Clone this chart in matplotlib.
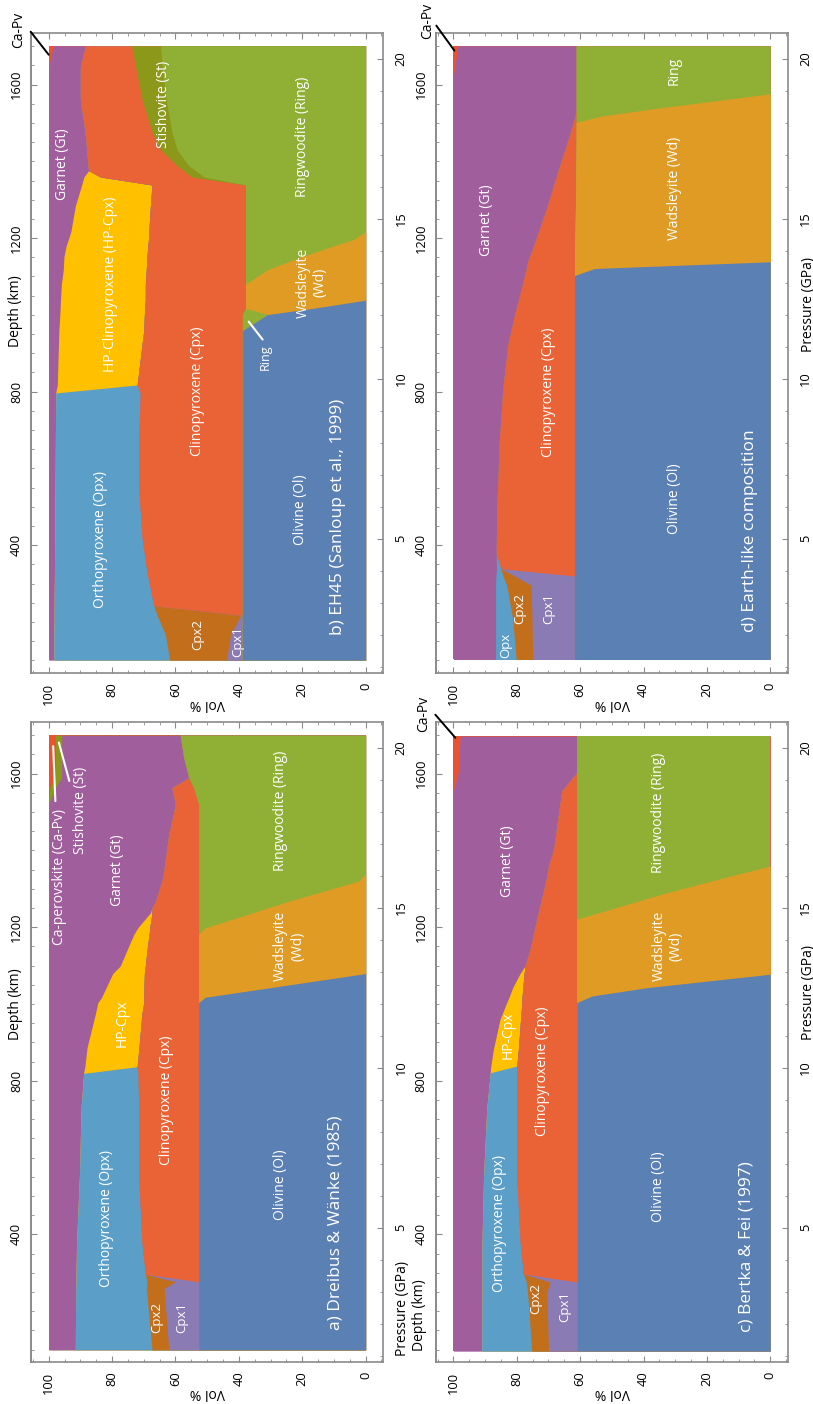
import numpy as np
import matplotlib
matplotlib.use("Agg")
import matplotlib.pyplot as plt
from matplotlib.ticker import MultipleLocator

plt.rcParams['font.family'] = ['Open Sans', 'DejaVu Sans']

frame_col = "#8a8a8a"
fs_tick = 9.3
fs_phase = 10
fs_small = 9.5
fs_title = 12.5

phase_colors = {
    "Ol": "#5b80b4", "Wd": "#e09b24", "Ring": "#8fb035", "St": "#8c981a",
    "Cpx": "#e96336", "Cpx1": "#8a7bb4", "Cpx2": "#c36e1b", "Opx": "#5b9ec8",
    "HP-Cpx": "#ffc000", "Gt": "#a15e9c", "Ca-Pv": "#e9532f",
}

# ---------------- a) Dreibus & Waenke (1985)  (vol % of each phase)
a_pressure = [1.18, 3.1, 3.31, 3.54, 4.56, 6.65, 8.73, 9.82, 10.03, 10.63, 11.67, 12.03, 12.2, 12.94, 13.18,
              13.65, 14.17, 14.37, 14.84, 15.0, 15.2, 15.83, 16.06, 17.29, 18.23, 18.75, 19.06, 19.69, 20.39]
a_ol = [52.7, 52.7, 52.7, 52.7, 52.7, 52.7, 52.7, 52.7, 52.7, 52.7, 52.7, 52.7, 50.6, 0, 0,
        0, 0, 0, 0, 0, 0, 0, 0, 0, 0, 0, 0, 0, 0]
a_wd = [0, 0, 0, 0, 0, 0, 0, 0, 0, 0, 0, 0, 2.1, 52.7, 52.7,
        52.7, 52.7, 50.6, 35.6, 30.6, 24.3, 2.2, 0, 0, 0, 0, 0, 0, 0]
a_ring = [0, 0, 0, 0, 0, 0, 0, 0, 0, 0, 0, 0, 0, 0, 0,
          0, 0, 2.1, 17.1, 22.1, 28.4, 50.5, 52.7, 52.7, 52.7, 54.3, 55.8, 57.4, 58.5]
a_cpx = [0, 0, 0, 16.8, 17.9, 18.9, 18.9, 19.1, 19.4, 18.8, 17.9, 17.3, 17.3, 17.1, 16.8,
         16.3, 15.6, 15.4, 14.7, 14.7, 13.6, 11.6, 11.1, 9.4, 7.3, 6.8, 0, 0, 0]
a_cpx1 = [9.4, 10.9, 7.3, 0, 0, 0, 0, 0, 0, 0, 0, 0, 0, 0, 0,
          0, 0, 0, 0, 0, 0, 0, 0, 0, 0, 0, 0, 0, 0]
a_cpx2 = [5.3, 5.6, 9.0, 0, 0, 0, 0, 0, 0, 0, 0, 0, 0, 0, 0,
          0, 0, 0, 0, 0, 0, 0, 0, 0, 0, 0, 0, 0, 0]
a_opx = [24.2, 22.3, 22.4, 21.9, 20.6, 18.7, 18.2, 17.2, 0, 0, 0, 0, 0, 0, 0,
         0, 0, 0, 0, 0, 0, 0, 0, 0, 0, 0, 0, 0, 0]
a_hpcpx = [0, 0, 0, 0, 0, 0, 0, 0, 16.5, 16.4, 14.7, 14.5, 13.3, 10.0, 7.9,
           6.4, 4.8, 3.8, 0.5, 0, 0, 0, 0, 0, 0, 0, 0, 0, 0]
a_gt = [8.4, 8.5, 8.6, 8.6, 8.8, 9.7, 10.2, 11.0, 11.4, 12.1, 14.7, 15.5, 16.7, 20.2, 22.6,
        24.6, 26.9, 28.1, 32.1, 32.6, 33.7, 35.7, 36.2, 37.9, 40.0, 36.8, 40.2, 38.5, 37.4]
a_st = [0, 0, 0, 0, 0, 0, 0, 0, 0, 0, 0, 0, 0, 0, 0,
        0, 0, 0, 0, 0, 0, 0, 0, 0, 0, 1.8, 2.0, 2.0, 2.0]
a_capv = [0, 0, 0, 0, 0, 0, 0, 0, 0, 0, 0, 0, 0, 0, 0,
          0, 0, 0, 0, 0, 0, 0, 0, 0, 0, 0.3, 2.0, 2.1, 2.1]

# ---------------- b) EH45 (Sanloup et al., 1999)
b_pressure = [1.2, 2.0, 2.6, 2.9, 3.9, 5.0, 6.6, 8.1, 9.55, 9.8, 11.5, 12.0, 12.2, 12.45, 12.95,
              13.4, 13.8, 14.15, 14.35, 14.6, 15.4, 16.05, 16.3, 16.5, 16.65, 17.15, 17.7, 18.7, 19.75, 20.4]
b_ol = [38.9, 38.9, 38.9, 38.9, 38.9, 38.9, 38.9, 38.9, 38.9, 38.9, 38.9, 31.0, 16.3, 0, 0,
        0, 0, 0, 0, 0, 0, 0, 0, 0, 0, 0, 0, 0, 0, 0]
b_wd = [0, 0, 0, 0, 0, 0, 0, 0, 0, 0, 0, 0, 21.6, 37.9, 37.9,
        31.0, 20.5, 10.0, 3.7, 0, 0, 0, 0, 0, 0, 0, 0, 0, 0, 0]
b_ring = [0, 0, 0, 0, 0, 0, 0, 0, 0, 0, 0, 7.9, 0, 0, 0,
          6.9, 17.4, 27.9, 34.2, 37.9, 37.9, 37.9, 51.0, 53.7, 55.8, 59.5, 61.1, 62.9, 64.2, 64.7]
b_st = [0, 0, 0, 0, 0, 0, 0, 0, 0, 0, 0, 0, 0, 0, 0,
        0, 0, 0, 0, 0, 0, 0, 4.0, 3.7, 3.7, 5.2, 6.3, 7.6, 8.4, 9.2]
b_cpx = [0, 0, 0, 27.9, 30.0, 31.6, 32.7, 32.7, 32.2, 33.2, 31.1, 30.9, 31.8, 31.6, 31.6,
         31.3, 31.1, 30.8, 30.6, 30.5, 30.0, 29.5, 28.7, 30.0, 28.1, 23.3, 21.1, 19.5, 17.4, 14.5]
b_cpx1 = [5.0, 3.7, 0.5, 0, 0, 0, 0, 0, 0, 0, 0, 0, 0, 0, 0,
          0, 0, 0, 0, 0, 0, 0, 0, 0, 0, 0, 0, 0, 0, 0]
b_cpx2 = [17.9, 20.6, 26.4, 0, 0, 0, 0, 0, 0, 0, 0, 0, 0, 0, 0,
          0, 0, 0, 0, 0, 0, 0, 0, 0, 0, 0, 0, 0, 0, 0]
b_opx = [36.6, 35.2, 32.5, 31.5, 29.3, 27.6, 26.4, 26.3, 26.7, 0, 0, 0, 0, 0, 0,
         0, 0, 0, 0, 0, 0, 0, 0, 0, 0, 0, 0, 0, 0, 0]
b_hpcpx = [0, 0, 0, 0, 0, 0, 0, 0, 0, 25.2, 26.8, 26.7, 26.7, 26.8, 26.5,
           26.2, 26.2, 25.8, 25.3, 24.6, 23.7, 22.2, 5.2, 0, 0, 0, 0, 0, 0, 0]
b_gt = [1.6, 1.6, 1.7, 1.7, 1.8, 1.9, 2.0, 2.1, 2.2, 2.7, 3.2, 3.5, 3.6, 3.7, 4.0,
        4.6, 4.8, 5.5, 6.2, 7.0, 8.4, 10.4, 11.1, 12.6, 12.4, 12.0, 11.5, 10.0, 10.0, 10.2]
b_capv = [0, 0, 0, 0, 0, 0, 0, 0, 0, 0, 0, 0, 0, 0, 0,
          0, 0, 0, 0, 0, 0, 0, 0, 0, 0, 0, 0, 0, 0, 1.4]

# ---------------- c) Bertka & Fei (1997)
c_pressure = [1.14, 2.98, 3.3, 3.55, 4.5, 6.6, 8.7, 9.84, 10.05, 10.57, 11.51, 12.03, 12.24,
              12.5, 12.92, 13.18, 13.7, 14.64, 15.47, 15.99, 16.3, 16.82, 18.65, 19.22, 20.36]
c_ol = [61.1, 61.1, 61.1, 61.1, 61.1, 61.1, 61.1, 61.1, 61.1, 61.1, 61.1, 61.1, 56.3,
        38.9, 0, 0, 0, 0, 0, 0, 0, 0, 0, 0, 0]
c_wd = [0, 0, 0, 0, 0, 0, 0, 0, 0, 0, 0, 0, 4.8,
        22.2, 61.1, 61.1, 61.1, 61.1, 32.6, 12.5, 0, 0, 0, 0, 0]
c_ring = [0, 0, 0, 0, 0, 0, 0, 0, 0, 0, 0, 0, 0,
          0, 0, 0, 0, 0, 28.5, 48.6, 61.1, 61.1, 61.1, 61.1, 61.1]
c_cpx = [0, 0, 0, 16.8, 17.8, 18.9, 18.9, 18.9, 18.9, 18.4, 17.7, 17.3, 17.2,
         17.0, 16.6, 16.3, 14.7, 12.6, 10.6, 9.4, 8.9, 7.3, 4.7, 0, 0]
c_cpx1 = [8.9, 9.4, 8.4, 0, 0, 0, 0, 0, 0, 0, 0, 0, 0,
          0, 0, 0, 0, 0, 0, 0, 0, 0, 0, 0, 0]
c_cpx2 = [5.3, 6.1, 7.5, 0, 0, 0, 0, 0, 0, 0, 0, 0, 0,
          0, 0, 0, 0, 0, 0, 0, 0, 0, 0, 0, 0]
c_opx = [15.8, 14.4, 14.0, 13.1, 12.1, 10.5, 9.5, 8.4, 0, 0, 0, 0, 0,
         0, 0, 0, 0, 0, 0, 0, 0, 0, 0, 0, 0]
c_hpcpx = [0, 0, 0, 0, 0, 0, 0, 0, 8.2, 7.9, 6.5, 4.8, 4.0,
           3.2, 1.4, 0, 0, 0, 0, 0, 0, 0, 0, 0, 0]
c_gt = [8.9, 9.0, 9.0, 9.0, 9.0, 9.5, 10.5, 11.6, 11.8, 12.6, 14.7, 16.8, 17.7,
        18.7, 20.9, 22.6, 24.2, 26.3, 28.3, 29.5, 30.0, 31.6, 34.2, 37.4, 36.8]
c_capv = [0, 0, 0, 0, 0, 0, 0, 0, 0, 0, 0, 0, 0,
          0, 0, 0, 0, 0, 0, 0, 0, 0, 0, 1.5, 2.1]

# ---------------- d) Earth-like composition
d_pressure = [1.22, 2.5, 3.54, 3.83, 4.06, 4.55, 6.0, 8.1, 9.7, 11.1, 12.0, 13.0, 13.22,
              13.44, 13.65, 14.1, 15.3, 16.65, 17.6, 18.0, 18.2, 18.45, 18.9, 19.45, 20.4]
d_ol = [61.8, 61.8, 61.8, 61.8, 61.8, 61.8, 61.8, 61.8, 61.8, 61.8, 61.8, 61.8, 61.8,
        55.5, 0, 0, 0, 0, 0, 0, 0, 0, 0, 0, 0]
d_wd = [0, 0, 0, 0, 0, 0, 0, 0, 0, 0, 0, 0, 0,
        6.3, 61.8, 61.8, 61.5, 61.4, 61.3, 61.3, 53.6, 35.6, 0, 0, 0]
d_ring = [0, 0, 0, 0, 0, 0, 0, 0, 0, 0, 0, 0, 0,
          0, 0, 0, 0, 0, 0, 0, 7.7, 25.7, 61.3, 61.3, 61.3]
d_cpx = [0, 0, 0, 0, 23.2, 24.7, 24.5, 23.7, 22.6, 21.0, 18.9, 16.3, 15.8,
         15.2, 14.8, 13.1, 9.2, 5.1, 2.1, 0.9, 0.3, 0, 0, 0, 0]
d_cpx1 = [13.2, 13.4, 13.7, 18.9, 0, 0, 0, 0, 0, 0, 0, 0, 0,
          0, 0, 0, 0, 0, 0, 0, 0, 0, 0, 0, 0]
d_cpx2 = [5.2, 6.1, 7.7, 3.7, 0, 0, 0, 0, 0, 0, 0, 0, 0,
          0, 0, 0, 0, 0, 0, 0, 0, 0, 0, 0, 0]
d_opx = [6.5, 5.4, 3.5, 2.2, 1.4, 0, 0, 0, 0, 0, 0, 0, 0,
         0, 0, 0, 0, 0, 0, 0, 0, 0, 0, 0, 0]
d_gt = [13.3, 13.3, 13.3, 13.4, 13.6, 13.5, 13.7, 14.5, 15.6, 17.2, 19.3, 21.9, 22.4,
        23.0, 23.4, 25.1, 29.3, 33.5, 36.6, 37.8, 38.4, 38.7, 38.7, 38.7, 37.3]
d_capv = [0, 0, 0, 0, 0, 0, 0, 0, 0, 0, 0, 0, 0,
          0, 0, 0, 0, 0, 0, 0, 0, 0, 0, 0, 1.4]

vol_ticks = [0, 20, 40, 60, 80, 100]
p_ticks = [5, 10, 15, 20]
depth_ticks = [400, 800, 1200, 1600]


def p_to_depth(p):
    return (np.asarray(p) + 0.01) / 0.012


def depth_to_p(d):
    return np.asarray(d) * 0.012 - 0.01


fig = plt.figure(figsize=(8.13, 14.04), dpi=100)


def draw_panel(rect, pressure, layers, order, labels):
    ax = fig.add_axes(rect)
    tops = np.cumsum(np.array(layers, dtype=float), axis=0)
    # paint from the top layer down so neighbouring fills leave no seams
    for top, name in reversed(list(zip(tops, order))):
        ax.fill_betweenx(pressure, 0, top, color=phase_colors[name], lw=0)
    ax.set_xlim(105.5, -5.6)
    ax.set_ylim(0.8, 20.8)

    ax.set_xticks(vol_ticks)
    ax.set_xticklabels([str(v) for v in vol_ticks], rotation=90)
    ax.xaxis.set_minor_locator(MultipleLocator(5))
    ax.tick_params(axis='x', which='both', direction='in', top=True, bottom=True,
                   color=frame_col, labelsize=fs_tick, pad=7)
    ax.yaxis.tick_right()
    ax.set_yticks(p_ticks)
    ax.set_yticklabels([str(v) for v in p_ticks], rotation=90, va='center')
    ax.yaxis.set_minor_locator(MultipleLocator(1))
    ax.tick_params(axis='y', which='both', direction='in', left=False, right=True,
                   color=frame_col, labelsize=fs_tick, pad=8)
    ax.tick_params(which='major', length=4)
    ax.tick_params(which='minor', length=2.5)
    for sp in ax.spines.values():
        sp.set_color(frame_col)
        sp.set_linewidth(1.2)

    sec = ax.secondary_yaxis('left', functions=(p_to_depth, depth_to_p))
    sec.set_ticks(depth_ticks, labels=[str(d) for d in depth_ticks], rotation=90, va='center')
    sec.yaxis.set_minor_locator(MultipleLocator(50))
    sec.tick_params(which='both', direction='in', color=frame_col, labelsize=fs_tick, pad=6)
    sec.tick_params(which='major', length=4)
    sec.tick_params(which='minor', length=2.5)
    sec.spines['left'].set_color(frame_col)
    sec.spines['left'].set_linewidth(1.2)

    ax.text(0.5, -0.047, 'Vol %', transform=ax.transAxes, rotation=180,
            ha='center', va='center', fontsize=10)

    for txt, x, y, size in labels:
        ax.text(x, y, txt, rotation=90, color='white', fontsize=size,
                ha='center', va='center', multialignment='center')
    return ax


def leader(ax, start, end, color, lw):
    ax.annotate('', xy=end, xytext=start, annotation_clip=False,
                arrowprops=dict(arrowstyle='-', color=color, lw=lw, shrinkA=0, shrinkB=0))


left_x, right_x = 0.0385, 0.5363
top_y, bottom_y = 0.5207, 0.0299
w, h = 0.433, 0.4558

# b) top left
ax_b = draw_panel([left_x, top_y, w, h], b_pressure,
                  [b_ol, b_wd, b_ring, b_st, b_cpx, b_cpx1, b_cpx2, b_opx, b_hpcpx, b_gt, b_capv],
                  ["Ol", "Wd", "Ring", "St", "Cpx", "Cpx1", "Cpx2", "Opx", "HP-Cpx", "Gt", "Ca-Pv"],
                  [("Garnet (Gt)", 95.8, 16.69, fs_phase),
                   ("HP-Clinopyroxene (HP-Cpx)", 80.4, 12.94, fs_phase),
                   ("Clinopyroxene (Cpx)", 53.0, 9.6, fs_phase),
                   ("Stishovite (St)", 63.7, 18.56, fs_phase),
                   ("Ringwoodite (Ring)", 20.0, 17.56, fs_phase),
                   ("Wadsleyite\n(Wd)", 17.0, 13.0, fs_phase),
                   ("Ring", 31.6, 10.66, 9),
                   ("Orthopyroxene (Opx)", 83.6, 4.97, fs_phase),
                   ("Olivine (Ol)", 20.5, 5.9, fs_phase),
                   ("Cpx2", 53.0, 2.0, fs_small),
                   ("Cpx1", 40.4, 1.78, fs_small),
                   ("b) EH45 (Sanloup et al., 1999)", 8.8, 5.69, fs_title)])
leader(ax_b, (36.9, 11.78), (32.5, 11.22), 'white', 1.5)
leader(ax_b, (105.7, 20.84), (100.0, 20.12), 'black', 1.4)
ax_b.text(109.5, 20.9, 'Ca-Pv', rotation=90, ha='center', va='center', fontsize=10, clip_on=False)
ax_b.text(-0.045, 0.565, 'Depth (km)', transform=ax_b.transAxes, rotation=90,
          ha='center', va='center', fontsize=10)

# d) top right
ax_d = draw_panel([right_x, top_y, w, h], d_pressure,
                  [d_ol, d_wd, d_ring, d_cpx, d_cpx1, d_cpx2, d_opx, d_gt, d_capv],
                  ["Ol", "Wd", "Ring", "Cpx", "Cpx1", "Cpx2", "Opx", "Gt", "Ca-Pv"],
                  [("Garnet (Gt)", 89.5, 14.95, fs_phase),
                   ("Ring", 30.2, 19.63, fs_phase),
                   ("Wadsleyite (Wd)", 30.2, 15.93, fs_phase),
                   ("Clinopyroxene (Cpx)", 70.0, 9.56, fs_phase),
                   ("Olivine (Ol)", 30.2, 6.25, fs_phase),
                   ("Opx", 83.6, 1.67, fs_small),
                   ("Cpx2", 79.0, 2.82, fs_small),
                   ("Cpx1", 70.0, 2.81, fs_small),
                   ("d) Earth-like composition", 6.5, 5.24, fs_title)])
leader(ax_d, (105.4, 21.03), (99.7, 20.25), 'black', 1.4)
ax_d.text(108.2, 21.19, 'Ca-Pv', rotation=90, ha='center', va='center', fontsize=10, clip_on=False)
ax_d.text(1.057, 0.575, 'Pressure (GPa)', transform=ax_d.transAxes, rotation=90,
          ha='center', va='center', fontsize=10)

# a) bottom left
ax_a = draw_panel([left_x, bottom_y, w, h], a_pressure,
                  [a_ol, a_wd, a_ring, a_cpx, a_cpx1, a_cpx2, a_opx, a_hpcpx, a_gt, a_st, a_capv],
                  ["Ol", "Wd", "Ring", "Cpx", "Cpx1", "Cpx2", "Opx", "HP-Cpx", "Gt", "St", "Ca-Pv"],
                  [("Ca-perovskite (Ca-Pv)", 96.5, 15.95, fs_phase),
                   ("Stishovite (St)", 90.0, 18.03, fs_phase),
                   ("Garnet (Gt)", 78.4, 16.17, fs_phase),
                   ("HP-Cpx", 76.9, 11.4, fs_phase),
                   ("Ringwoodite (Ring)", 26.9, 18.02, fs_phase),
                   ("Wadsleyite\n(Wd)", 24.1, 13.8, fs_phase),
                   ("Clinopyroxene (Cpx)", 62.7, 8.99, fs_phase),
                   ("Orthopyroxene (Opx)", 81.9, 5.29, fs_phase),
                   ("Olivine (Ol)", 26.9, 6.33, fs_phase),
                   ("Cpx2", 65.8, 2.19, fs_small),
                   ("Cpx1", 58.1, 2.19, fs_small),
                   ("a) Dreibus & Wänke (1985)", 9.6, 5.14, fs_title)])
leader(ax_a, (98.6, 20.05), (97.9, 18.33), 'white', 1.5)
leader(ax_a, (96.8, 20.16), (93.5, 18.96), 'white', 1.5)
ax_a.text(-0.045, 0.56, 'Depth (km)', transform=ax_a.transAxes, rotation=90,
          ha='center', va='center', fontsize=10)
ax_a.text(1.054, 0.083, 'Pressure (GPa)', transform=ax_a.transAxes, rotation=90,
          ha='center', va='center', fontsize=10)
ax_a.text(1.102, 0.073, 'Depth (km)', transform=ax_a.transAxes, rotation=90,
          ha='center', va='center', fontsize=10)

# c) bottom right
ax_c = draw_panel([right_x, bottom_y, w, h], c_pressure,
                  [c_ol, c_wd, c_ring, c_cpx, c_cpx1, c_cpx2, c_opx, c_hpcpx, c_gt, c_capv],
                  ["Ol", "Wd", "Ring", "Cpx", "Cpx1", "Cpx2", "Opx", "HP-Cpx", "Gt", "Ca-Pv"],
                  [("Garnet (Gt)", 82.9, 16.46, fs_phase),
                   ("HP-Cpx", 82.6, 11.0, fs_phase),
                   ("Ringwoodite (Ring)", 35.3, 17.97, fs_phase),
                   ("Wadsleyite\n(Wd)", 32.4, 13.8, fs_phase),
                   ("Clinopyroxene (Cpx)", 71.9, 9.9, fs_phase),
                   ("Orthopyroxene (Opx)", 85.5, 5.13, fs_phase),
                   ("Olivine (Ol)", 35.3, 6.28, fs_phase),
                   ("Cpx2", 73.9, 2.77, fs_small),
                   ("Cpx1", 65.0, 2.53, fs_small),
                   ("c) Bertka & Fei (1997)", 7.4, 4.41, fs_title)])
leader(ax_c, (105.7, 21.03), (99.4, 20.31), 'black', 1.4)
ax_c.text(109.5, 21.06, 'Ca-Pv', rotation=90, ha='center', va='center', fontsize=10, clip_on=False)
ax_c.text(1.057, 0.577, 'Pressure (GPa)', transform=ax_c.transAxes, rotation=90,
          ha='center', va='center', fontsize=10)

fig.savefig('out.png', dpi=100)
